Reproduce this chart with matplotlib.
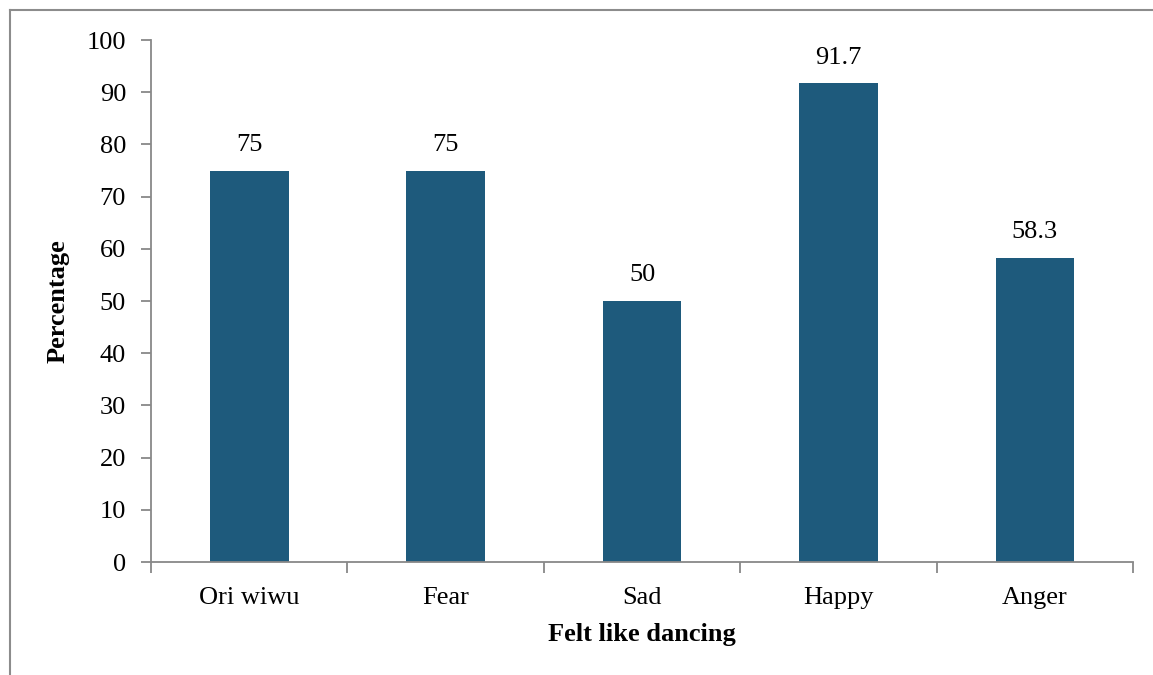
import matplotlib.pyplot as plt
from matplotlib.lines import Line2D
import numpy as np

categories = ['Ori wiwu', 'Fear', 'Sad', 'Happy', 'Anger']
values = [75, 75, 50, 91.7, 58.3]
value_labels = ['75', '75', '50', '91.7', '58.3']

plt.rcParams['font.family'] = ['Liberation Serif', 'DejaVu Serif']

fig = plt.figure(figsize=(11.53, 6.75), dpi=100)
ax = fig.add_axes([0.131, 0.1674, 0.8517, 0.7733])

x = np.arange(len(categories))
bars = ax.bar(x, values, width=0.4, color='#1e5a7c', zorder=2)
for xi, v, lab in zip(x, values, value_labels):
    ax.text(xi, v + 2.8, lab, ha='center', va='bottom', fontsize=19)

ax.set_xlim(-0.5, len(categories) - 0.5)
ax.set_ylim(0, 100)
ax.set_yticks(range(0, 101, 10))
ax.tick_params(axis='y', labelsize=19, length=7, color='#888888', width=1.3, pad=11)
ax.set_xticks(x)
ax.set_xticklabels(categories, fontsize=19)
ax.tick_params(axis='x', length=0, pad=18)
ax.set_xticks(np.arange(-0.5, len(categories)), minor=True)
ax.tick_params(axis='x', which='minor', length=8, color='#888888', width=1.3)

for s in ['top', 'right']:
    ax.spines[s].set_visible(False)
for s in ['left', 'bottom']:
    ax.spines[s].set_color('#888888')
    ax.spines[s].set_linewidth(1.3)

ax.set_ylabel('Percentage', fontsize=19, fontweight='bold', labelpad=12)
ax.set_xlabel('Felt like dancing', fontsize=19, fontweight='bold', labelpad=10)

# outer frame (top and left edges)
fig.add_artist(Line2D([10 / 1153, 1.0], [1 - 10 / 675, 1 - 10 / 675],
                      transform=fig.transFigure, color='#8c8c8c', lw=1.5))
fig.add_artist(Line2D([10 / 1153, 10 / 1153], [0, 1 - 10 / 675],
                      transform=fig.transFigure, color='#8c8c8c', lw=1.5))

fig.savefig('out.png', dpi=100)
